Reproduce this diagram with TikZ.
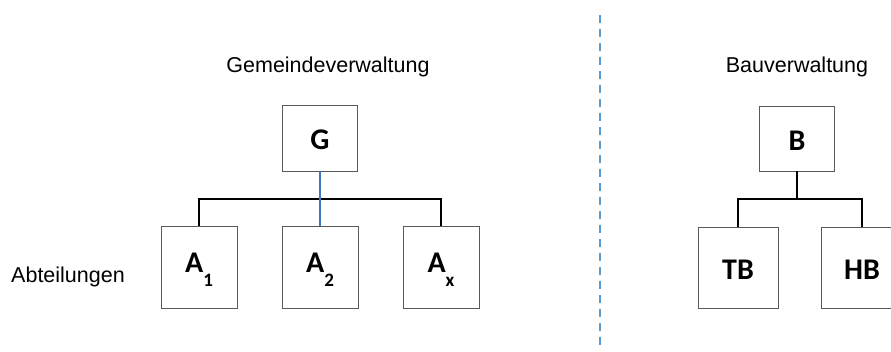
\documentclass[tikz,border=0pt]{standalone}
\usepackage{fontspec}
\setmainfont{Liberation Sans}
\newfontfamily\boxfont{Carlito}
\newcommand\lowsub[1]{\raisebox{-14pt}{\fontsize{19}{19}\selectfont #1}}
\definecolor{boxline}{HTML}{595959}
\definecolor{linkblue}{HTML}{3F76BF}
\definecolor{splitblue}{HTML}{5B9BD5}
\tikzset{
  unit/.style={draw=boxline, line width=0.9pt, rectangle, inner sep=0pt,
    font=\boxfont\bfseries\fontsize{30}{30}\selectfont,
    text height=24pt, text depth=0pt},
  subunit/.style={unit, minimum width=76pt, minimum height=82pt,
    text height=24pt, text depth=12pt},
  link/.style={draw=black, line width=1.6pt},
  bluelink/.style={draw=linkblue, line width=1.6pt},
  divider/.style={draw=splitblue, line width=1.5pt, dash pattern=on 8pt off 6pt},
  caption/.style={font=\fontsize{21.5}{21.5}\selectfont, anchor=base, inner sep=0pt}
}
\begin{document}
\begin{tikzpicture}[x=1pt,y=-1pt]
\clip (0,0) rectangle (891,352);
\fill[white] (0,0) rectangle (891,352);

% left organisation
\node[caption] (gtitle) at (328,73) {Gemeindeverwaltung};
\node[unit, minimum width=75pt, minimum height=66pt] (G) at (320,138) {G};
\node[subunit] (A1) at (199,267) {A\lowsub{1}};
\node[subunit] (A2) at (320,267) {A\lowsub{2}};
\node[subunit] (Ax) at (441,267) {A\lowsub{x}};
\node[caption] (abt) at (68,283) {Abteilungen};

\coordinate (gbar) at (320,199);
\draw[link] (A1.north) |- (gbar) -| (Ax.north);
\draw[bluelink] (G.south) -- (A2.north);

% dividing line
\coordinate (d1) at (600,15);
\coordinate (d2) at (600,350);
\draw[divider] (d1) -- (d2);

% right organisation
\node[caption] (btitle) at (797,73) {Bauverwaltung};
\node[unit, minimum width=75pt, minimum height=65pt] (B) at (797,138.5) {B};
\node[unit, minimum width=80pt, minimum height=81pt] (TB) at (738,267.5) {TB};
\node[unit, minimum width=82pt, minimum height=81pt] (HB) at (862,267.5) {HB};

\coordinate (bbar) at (797,199);
\draw[link] (B.south) -- (bbar);
\draw[link] (TB.north) |- (bbar) -| (HB.north);
\end{tikzpicture}
\end{document}
